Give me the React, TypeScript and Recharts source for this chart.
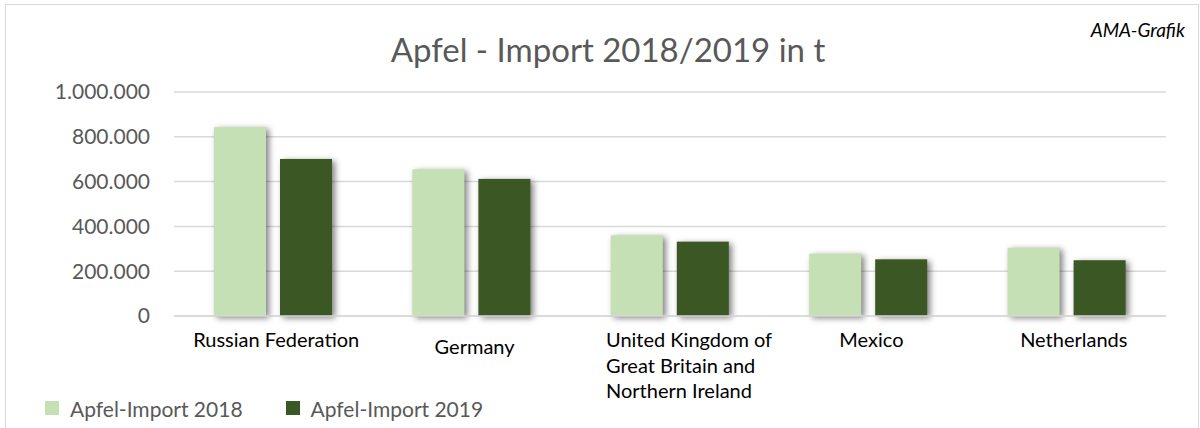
import React from 'react';
import { BarChart, Bar, XAxis, YAxis, CartesianGrid, Legend } from 'recharts';

const categories = [
  'Russian Federation',
  'Germany',
  'United Kingdom of Great Britain and Northern Ireland',
  'Mexico',
  'Netherlands',
];
const import2018 = [843000, 655000, 360000, 278000, 305000];
const import2019 = [701000, 612000, 332000, 253000, 249000];
const yTicks = [0, 200000, 400000, 600000, 800000, 1000000];
const seriesNames = ['Apfel-Import 2018', 'Apfel-Import 2019'];
const title = 'Apfel - Import 2018/2019 in t';
const source = 'AMA-Grafik';

const COLORS = ['#C5E0B4', '#3B5724'];
const FONT = 'Lato, "Open Sans", sans-serif';

const data = categories.map((c, i) => ({ name: c, y2018: import2018[i], y2019: import2019[i] }));

const fmt = (v: number) => String(Math.round(v)).replace(/\B(?=(\d{3})+(?!\d))/g, '.');

const wrap = (s: string, max: number) => {
  const words = s.split(' ');
  const lines: string[] = [];
  let cur = '';
  for (const w of words) {
    const t = cur ? cur + ' ' + w : w;
    if (t.length > max && cur) {
      lines.push(cur);
      cur = w;
    } else cur = t;
  }
  if (cur) lines.push(cur);
  return lines;
};

const CatTick = (props: any) => {
  const { x, y, payload, index } = props;
  const lines = wrap(String(payload.value), 18);
  const multi = lines.length > 1;
  const extra = index === 1 ? 7 : 0;
  const tx = multi ? x - 64 : x + 3 + (index === 4 ? 4 : 0);
  return (
    <text
      x={tx}
      y={y + extra}
      textAnchor={multi ? 'start' : 'middle'}
      fill="#000"
      fontSize={20}
      fontFamily={FONT}
    >
      {lines.map((l, i) => (
        <tspan key={i} x={tx} dy={i === 0 ? 23 : 25.5}>
          {l}
        </tspan>
      ))}
    </text>
  );
};

const ShadowBar = (props: any) => {
  const { x, y, width, height, fill } = props;
  if (!height || height <= 0) return null;
  return (
    <rect
      x={x}
      y={y}
      width={width}
      height={height}
      fill={fill}
      style={{ filter: 'drop-shadow(3px 2px 3px rgba(0,0,0,0.5))' }}
    />
  );
};

const LegendContent = () => (
  <div style={{ display: 'flex', alignItems: 'center', height: 30, fontFamily: FONT, fontSize: 21, color: '#595959' }}>
    {seriesNames.map((n, i) => (
      <div key={n} style={{ display: 'flex', alignItems: 'center', marginRight: 43 }}>
        <div style={{ width: 14, height: 14, background: COLORS[i], marginRight: 11 }} />
        <span>{n}</span>
      </div>
    ))}
  </div>
);

export default function App() {
  return (
    <div style={{ position: 'absolute', left: 0, top: 0, width: 1200, height: 428, overflow: 'hidden', background: '#fff' }}>
      <div
        style={{
          position: 'absolute',
          left: 5,
          top: 4,
          width: 1192,
          height: 440,
          border: '1px solid #d9d9d9',
        }}
      />
      <div
        style={{
          position: 'absolute',
          left: 0,
          width: 1216,
          top: 29,
          textAlign: 'center',
          fontFamily: FONT,
          fontSize: 33,
          color: '#595959',
          whiteSpace: 'nowrap',
        }}
      >
        {title}
      </div>
      <div
        style={{
          position: 'absolute',
          right: 15,
          top: 18,
          fontFamily: FONT,
          fontStyle: 'italic',
          fontSize: 19,
          color: '#000',
        }}
      >
        {source}
      </div>
      <div style={{ position: 'absolute', left: 0, top: 0 }}>
        <BarChart
          width={1200}
          height={428}
          data={data}
          margin={{ top: 92, right: 34, bottom: 0, left: 0 }}
          barSize={52}
          barGap={14}
        >
          <CartesianGrid vertical={false} stroke="#d9d9d9" strokeWidth={1.5} />
          <XAxis
            dataKey="name"
            interval={0}
            height={82}
            axisLine={{ stroke: '#d9d9d9', strokeWidth: 1.5 }}
            tickLine={false}
            tick={<CatTick />}
          />
          <YAxis
            width={174}
            domain={[0, 1000000]}
            ticks={yTicks}
            tickFormatter={fmt}
            axisLine={false}
            tickLine={false}
            tickMargin={18}
            tick={{ fill: '#595959', fontSize: 21, fontFamily: FONT }}
          />
          <Legend
            verticalAlign="bottom"
            align="left"
            content={<LegendContent />}
            wrapperStyle={{ left: 45, bottom: 5, width: 600, height: 30 }}
          />
          <Bar dataKey="y2018" name={seriesNames[0]} fill={COLORS[0]} isAnimationActive={false} shape={<ShadowBar />} />
          <Bar dataKey="y2019" name={seriesNames[1]} fill={COLORS[1]} isAnimationActive={false} shape={<ShadowBar />} />
        </BarChart>
      </div>
    </div>
  );
}
